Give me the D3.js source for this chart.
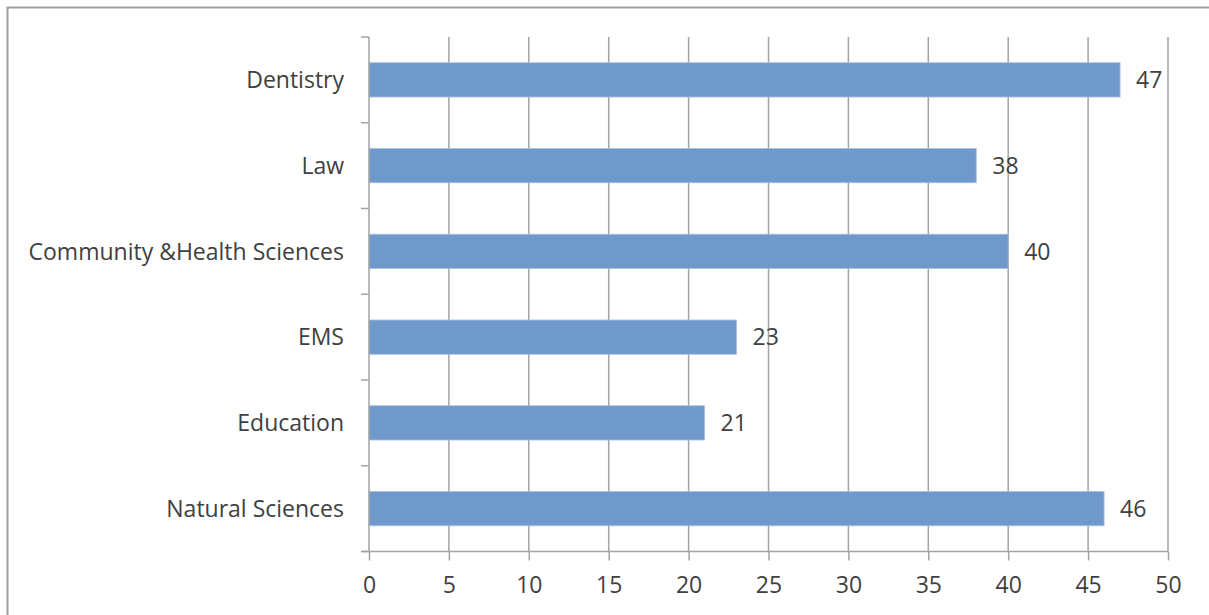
<!DOCTYPE html>
<html>
<head>
<meta charset="utf-8">
<script src="https://cdn.jsdelivr.net/npm/d3@7"></script>
<style>
  html, body { margin: 0; padding: 0; background: #fff; overflow: hidden; }
  svg { display: block; }
</style>
</head>
<body>
<svg id="chart" width="1209" height="615"></svg>
<script>
// Faculty counts, listed top to bottom as shown
const categories = ["Dentistry", "Law", "Community &Health Sciences", "EMS", "Education", "Natural Sciences"];
const values = [47, 38, 40, 23, 21, 46];
const xTicks = [0, 5, 10, 15, 20, 25, 30, 35, 40, 45, 50];

const svg = d3.select("#chart");
const font = "'Open Sans', 'Noto Sans', sans-serif";
const textColor = "#404040";
const gridColor = "#a3a3a3";
const fontSize = 23;

// Outer chart frame (top and left edges fall inside the view)
svg.append("path")
  .attr("d", "M7.5,615 V7.5 H1209")
  .attr("fill", "none")
  .attr("stroke", "#a0a0a0")
  .attr("stroke-width", 2);

const plot = { left: 369, right: 1168, top: 37, bottom: 551.5 };

const x = d3.scaleLinear().domain([0, 50]).range([plot.left, plot.right]);
const y = d3.scaleBand().domain(categories).range([plot.top, plot.bottom]).paddingInner(0).paddingOuter(0);
const barH = y.step() * 0.4;

// Vertical gridlines
svg.append("g")
  .selectAll("line")
  .data(xTicks.filter(t => t > 0))
  .join("line")
  .attr("x1", d => x(d)).attr("x2", d => x(d))
  .attr("y1", plot.top).attr("y2", plot.bottom)
  .attr("stroke", gridColor)
  .attr("stroke-width", 1.5);

// Bars
svg.append("g")
  .selectAll("rect")
  .data(categories)
  .join("rect")
  .attr("x", x(0))
  .attr("y", d => y(d) + (y.bandwidth() - barH) / 2)
  .attr("width", (d, i) => x(values[i]) - x(0))
  .attr("height", barH)
  .attr("fill", "#7099cb")
  .attr("stroke", "#a9c1e2")
  .attr("stroke-width", 0.8);

// Value labels
svg.append("g")
  .selectAll("text")
  .data(categories)
  .join("text")
  .attr("x", (d, i) => x(values[i]) + 16)
  .attr("y", d => y(d) + y.bandwidth() / 2)
  .attr("dy", "0.36em")
  .attr("font-family", font)
  .attr("font-size", fontSize)
  .attr("fill", textColor)
  .text((d, i) => values[i]);

// Y axis with outward ticks at category boundaries
const yAxis = svg.append("g").attr("transform", `translate(${plot.left},0)`);
yAxis.append("line")
  .attr("x1", 0).attr("x2", 0)
  .attr("y1", plot.top).attr("y2", plot.bottom)
  .attr("stroke", gridColor).attr("stroke-width", 1.5);
const boundaries = categories.map(c => y(c)).concat([plot.bottom]);
yAxis.selectAll("line.tick")
  .data(boundaries)
  .join("line")
  .attr("class", "tick")
  .attr("x1", -8).attr("x2", 0)
  .attr("y1", d => d).attr("y2", d => d)
  .attr("stroke", gridColor).attr("stroke-width", 1.5);
yAxis.selectAll("text")
  .data(categories)
  .join("text")
  .attr("x", -25)
  .attr("y", d => y(d) + y.bandwidth() / 2)
  .attr("dy", "0.36em")
  .attr("text-anchor", "end")
  .attr("font-family", font)
  .attr("font-size", fontSize)
  .attr("fill", textColor)
  .text(d => d);

// X axis
const xAxis = d3.axisBottom(x).tickValues(xTicks).tickSize(9).tickPadding(16).tickSizeOuter(0);
const gx = svg.append("g")
  .attr("transform", `translate(0,${plot.bottom})`)
  .call(xAxis);
gx.select(".domain").remove();
gx.append("line")
  .attr("x1", plot.left - 8).attr("x2", plot.right)
  .attr("y1", 0).attr("y2", 0)
  .attr("stroke", gridColor).attr("stroke-width", 1.5);
gx.selectAll(".tick line").attr("stroke", gridColor).attr("stroke-width", 1.5);
gx.selectAll(".tick text")
  .attr("font-family", font)
  .attr("font-size", fontSize)
  .attr("fill", textColor);
</script>
</body>
</html>
